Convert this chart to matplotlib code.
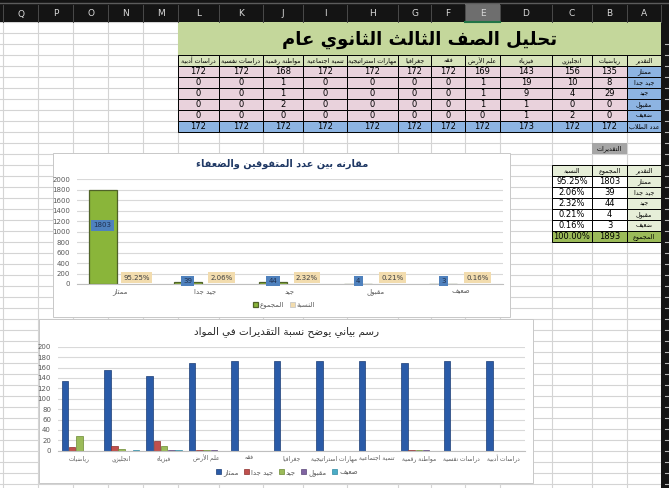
import matplotlib
matplotlib.use('Agg')
import matplotlib.pyplot as plt
from matplotlib.patches import Rectangle
import numpy as np

W, H = 669, 488

# ---- data ----
subjects = ['رياضيات', 'انجليزي', 'فيزياء', 'علم الأرض', 'فقه', 'جغرافيا',
            'مهارات استراتيجية', 'تنمية اجتماعية', 'مواطنة رقمية', 'دراسات نفسية', 'دراسات أدبية']
grades = ['ممتاز', 'جيد جدا', 'جيد', 'مقبول', 'ضعيف']
excellent = [135, 156, 143, 169, 172, 172, 172, 172, 168, 172, 172]
very_good = [8, 10, 19, 1, 0, 0, 0, 0, 1, 0, 0]
good = [29, 4, 9, 1, 0, 0, 0, 0, 1, 0, 0]
passed = [0, 0, 1, 1, 0, 0, 0, 0, 2, 0, 0]
weak = [0, 2, 1, 0, 0, 0, 0, 0, 0, 0, 0]
students = [172, 172, 173, 172, 172, 172, 172, 172, 172, 172, 172]
grade_totals = [1803, 39, 44, 4, 3]
grade_pct = [95.25, 2.06, 2.32, 0.21, 0.16]
total_all = 1893

col_letters = list('QPONMLKJIHGFEDCBA')
col_edges = [3, 38, 73, 108, 143, 178, 219, 263, 303, 347, 398, 431, 465, 500, 552, 592, 627, 661]

# ---- minimal arabic shaping (matplotlib has no bidi / joining) ----
FORMS = {'ء': (0xFE80, 0), 'آ': (0xFE81, 1), 'أ': (0xFE83, 1), 'ؤ': (0xFE85, 1), 'إ': (0xFE87, 1),
         'ئ': (0xFE89, 2), 'ا': (0xFE8D, 1), 'ب': (0xFE8F, 2), 'ة': (0xFE93, 1), 'ت': (0xFE95, 2),
         'ث': (0xFE99, 2), 'ج': (0xFE9D, 2), 'ح': (0xFEA1, 2), 'خ': (0xFEA5, 2), 'د': (0xFEA9, 1),
         'ذ': (0xFEAB, 1), 'ر': (0xFEAD, 1), 'ز': (0xFEAF, 1), 'س': (0xFEB1, 2), 'ش': (0xFEB5, 2),
         'ص': (0xFEB9, 2), 'ض': (0xFEBD, 2), 'ط': (0xFEC1, 2), 'ظ': (0xFEC5, 2), 'ع': (0xFEC9, 2),
         'غ': (0xFECD, 2), 'ف': (0xFED1, 2), 'ق': (0xFED5, 2), 'ك': (0xFED9, 2), 'ل': (0xFEDD, 2),
         'م': (0xFEE1, 2), 'ن': (0xFEE5, 2), 'ه': (0xFEE9, 2), 'و': (0xFEED, 1), 'ى': (0xFEEF, 1),
         'ي': (0xFEF1, 2)}
LAM_ALEF = {'آ': 0xFEF5, 'أ': 0xFEF7, 'إ': 0xFEF9, 'ا': 0xFEFB}


def ar(s):
    out = []
    i = 0
    n = len(s)
    while i < n:
        c = s[i]
        if c not in FORMS:
            out.append(c)
            i += 1
            continue
        prev = s[i - 1] if i > 0 else ''
        jp = prev in FORMS and FORMS[prev][1] == 2 and FORMS[c][1] > 0
        if c == 'ل' and i + 1 < n and s[i + 1] in LAM_ALEF:
            out.append(chr(LAM_ALEF[s[i + 1]] + (1 if jp else 0)))
            i += 2
            continue
        nxt = s[i + 1] if i + 1 < n else ''
        jn = FORMS[c][1] == 2 and nxt in FORMS and FORMS[nxt][1] > 0
        base, t = FORMS[c]
        if t == 0:
            f = 0
        elif jp and jn:
            f = 3
        elif jp:
            f = 1
        elif jn:
            f = 2
        else:
            f = 0
        out.append(chr(base + f))
        i += 1
    return ''.join(reversed(out))


def row_y(k):
    return 22.3 + 11 * k


fig = plt.figure(figsize=(W / 100, H / 100), dpi=100)
fig.patch.set_facecolor('white')
bg = fig.add_axes([0, 0, 1, 1])
bg.set_xlim(0, W)
bg.set_ylim(H, 0)
bg.axis('off')


def box(x0, y0, x1, y1, fc, ec='none', lw=0.7, z=1):
    bg.add_patch(Rectangle((x0, y0), x1 - x0, y1 - y0, facecolor=fc, edgecolor=ec, linewidth=lw, zorder=z))


def cell_text(ci, k, s, size=6, color='black', weight='normal'):
    cx = (col_edges[ci] + col_edges[ci + 1]) / 2
    cy = row_y(k) + 5.6
    bg.text(cx, cy, s, ha='center', va='center', fontsize=size, color=color, weight=weight, zorder=5)


# sheet grid
for x in col_edges:
    bg.plot([x, x], [22, H], color='#d4d4d4', lw=0.8, zorder=0.5)
k = 0
while row_y(k) < H:
    bg.plot([0, 661], [row_y(k), row_y(k)], color='#d4d4d4', lw=0.8, zorder=0.5)
    k += 1

# title block
box(178, row_y(0), 661, row_y(3), '#c4d79b', z=2)
bg.text(419.5, 40, ar('تحليل الصف الثالث الثانوي عام'), ha='center', va='center',
        fontsize=13, weight='bold', color='black', zorder=5)

# main table
pink = '#e9d2dc'
blue = '#8db4e2'
box(627, row_y(3), 661, row_y(4), '#d8e4bc', ec='black', z=2)
cell_text(16, 3, ar('التقدير'), size=4.6)
rows_data = [excellent, very_good, good, passed, weak]
for r, g in enumerate(grades):
    box(627, row_y(4 + r), 661, row_y(5 + r), blue, ec='black', z=2)
    cell_text(16, 4 + r, ar(g), size=4.6)
box(627, row_y(9), 661, row_y(10), blue, ec='black', z=2)
cell_text(16, 9, ar('عدد الطلاب'), size=4.6)
for j, sub in enumerate(subjects):
    ci = 15 - j
    x0, x1 = col_edges[ci], col_edges[ci + 1]
    box(x0, row_y(3), x1, row_y(4), '#d8e4bc', ec='black', z=2)
    cell_text(ci, 3, ar(sub), size=4.6)
    for r in range(5):
        box(x0, row_y(4 + r), x1, row_y(5 + r), pink, ec='black', z=2)
        cell_text(ci, 4 + r, str(rows_data[r][j]))
    box(x0, row_y(9), x1, row_y(10), blue, ec='black', z=2)
    cell_text(ci, 9, str(students[j]))

# summary table
box(592, row_y(11), 627, row_y(12), '#a6a6a6', z=2)
cell_text(15, 11, ar('التقديرات'), size=4.6)
light = '#e6eed8'
for ci, s in zip([14, 15, 16], ['النسبة', 'المجموع', 'التقدير']):
    box(col_edges[ci], row_y(13), col_edges[ci + 1], row_y(14), light, ec='black', z=2)
    cell_text(ci, 13, ar(s), size=4.6)
for r, g in enumerate(grades):
    box(col_edges[14], row_y(14 + r), col_edges[15], row_y(15 + r), 'white', ec='black', z=2)
    box(col_edges[15], row_y(14 + r), col_edges[16], row_y(15 + r), 'white', ec='black', z=2)
    box(col_edges[16], row_y(14 + r), col_edges[17], row_y(15 + r), light, ec='black', z=2)
    cell_text(14, 14 + r, f'{grade_pct[r]:.2f}%')
    cell_text(15, 14 + r, str(grade_totals[r]))
    cell_text(16, 14 + r, ar(g), size=4.6)
for ci in [14, 15, 16]:
    box(col_edges[ci], row_y(19), col_edges[ci + 1], row_y(20), '#9bbb59', ec='black', z=2)
cell_text(14, 19, '100.00%')
cell_text(15, 19, str(total_all))
cell_text(16, 19, ar('المجموع'), size=4.6)

# chart frames
box(52.5, 152.7, 510, 316.7, 'white', ec='#c8c8c8', z=3)
box(39, 318.5, 533, 483, 'white', ec='#c8c8c8', z=3)
bg.text(282, 164, ar('مقارنه بين عدد المتفوقين والضعفاء'), ha='center', va='center',
        fontsize=7, weight='bold', color='#1f3864', zorder=5)
bg.text(286, 332, ar('رسم بياني يوضح نسبة التقديرات في المواد'), ha='center', va='center',
        fontsize=7.5, color='#262626', zorder=5)

# column header bar and right strip
box(0, 0, W, 22.3, '#141414', z=6)
bg.plot([0, W], [3, 3], color='#5c5c5c', lw=1, zorder=6.5)
box(465, 4, 500, 22.3, '#6e6e6e', z=6.2)
bg.plot([465, 500], [21.5, 21.5], color='#217346', lw=1.5, zorder=6.5)
for x in col_edges:
    bg.plot([x, x], [5, 22], color='#4a4a4a', lw=0.7, zorder=6.3)
for ci, L in enumerate(col_letters):
    bg.text((col_edges[ci] + col_edges[ci + 1]) / 2, 14, L, ha='center', va='center',
            fontsize=6.5, color='#d9d9d9', zorder=7)
box(661, 0, W, H, '#141414', z=6)
k = 2
while row_y(k) < H:
    bg.plot([664.5, 667.5], [row_y(k), row_y(k)], color='#bbbbbb', lw=0.8, zorder=7)
    k += 1


def px_axes(x0, y0, x1, y1):
    return fig.add_axes([x0 / W, 1 - y1 / H, (x1 - x0) / W, (y1 - y0) / H])


def style(ax):
    ax.set_facecolor('none')
    for s in ['top', 'right', 'left']:
        ax.spines[s].set_visible(False)
    ax.spines['bottom'].set_color('#bfbfbf')
    ax.spines['bottom'].set_linewidth(0.8)
    ax.tick_params(length=0, labelsize=5, colors='#595959')
    ax.yaxis.grid(True, color='#d9d9d9', lw=0.8)
    ax.set_axisbelow(True)


# chart 1
ax1 = px_axes(77, 179.3, 503, 284)
style(ax1)
xs = np.arange(len(grades))
ax1.bar(xs - 0.2, grade_totals, 0.33, color='#8ab53a', edgecolor='#4f6228', lw=0.9, label=ar('المجموع'))
ax1.bar(xs + 0.2, [p / 100 for p in grade_pct], 0.33, color='#f2dcae', edgecolor='#c8c8c8', lw=0.6,
        label=ar('النسبة'))
for x, v, p in zip(xs, grade_totals, grade_pct):
    ax1.text(x - 0.2, max(v * 0.62, 60), str(v), ha='center', va='center', fontsize=5, color='#1f3050',
             bbox=dict(facecolor='#4f81bd', edgecolor='none', pad=1.6))
    ax1.text(x + 0.2, 120, f'{p:.2f}%', ha='center', va='center', fontsize=5, color='#404040',
             bbox=dict(facecolor='#f2dcae', edgecolor='none', pad=1.6))
ax1.set_xlim(-0.5, 4.5)
ax1.set_ylim(0, 2000)
ax1.set_yticks(range(0, 2001, 200))
ax1.set_xticks(xs)
ax1.set_xticklabels([ar(g) for g in grades])
ax1.tick_params(axis='x', pad=3)
ax1.tick_params(axis='y', pad=5)
ax1.legend(loc='center', bbox_to_anchor=(284 / W, 1 - 305 / H), bbox_transform=fig.transFigure,
           ncol=2, fontsize=5, frameon=False, handlelength=0.7, handleheight=0.7,
           columnspacing=0.8, handletextpad=0.3, labelcolor='#595959')

# chart 2
ax2 = px_axes(58, 346.7, 525, 450.7)
style(ax2)
xs2 = np.arange(len(subjects))
series = [excellent, very_good, good, passed, weak]
colors = ['#2a5ba8', '#c0504d', '#9bbb59', '#8064a2', '#4bacc6']
edges = ['#1a3c75', '#8c2f2d', '#6b8a32', '#5a4578', '#2f8aa3']
for i, (vals, c, e, g) in enumerate(zip(series, colors, edges, grades)):
    ax2.bar(xs2 - 0.34 + i * 0.17, vals, 0.155, color=c, edgecolor=e, lw=0.5, label=ar(g))
ax2.set_xlim(-0.5, len(subjects) - 0.5)
ax2.set_ylim(0, 200)
ax2.set_yticks(range(0, 201, 20))
ax2.set_xticks(xs2)
ax2.set_xticklabels([ar(s) for s in subjects], fontsize=4.3)
ax2.tick_params(axis='x', pad=3)
ax2.tick_params(axis='y', pad=5)
ax2.legend(loc='center', bbox_to_anchor=(287 / W, 1 - 472.7 / H), bbox_transform=fig.transFigure,
           ncol=5, fontsize=5, frameon=False, handlelength=0.7, handleheight=0.7,
           columnspacing=0.8, handletextpad=0.3, labelcolor='#595959')

fig.savefig('out.png', dpi=100)
